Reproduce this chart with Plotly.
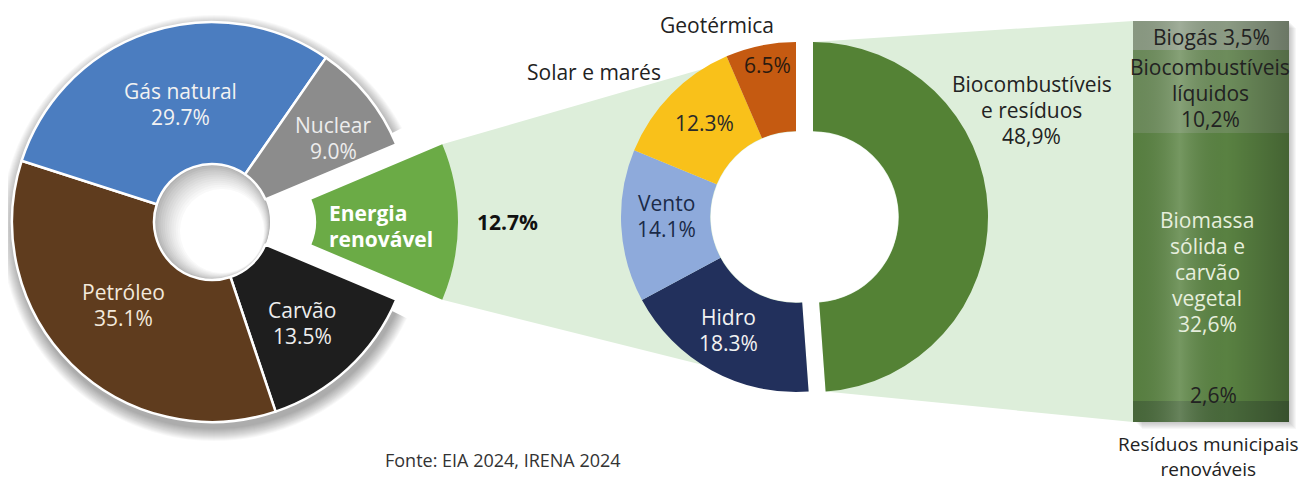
import math
import plotly.graph_objects as go

W, H = 1315, 481
OFF = 8  # page body margin of the browser (px)

# ---------------- data ----------------
fuel_labels = ["Energia renovável", "Carvão", "Petróleo", "Gás natural", "Nuclear"]
fuel_values = [12.7, 13.5, 35.1, 29.7, 9.0]
fuel_colors = ["#6BAB46", "#1E1E1E", "#5F3C1E", "#4B7DC0", "#8C8C8C"]

ren_labels = ["Biocombustíveis e resíduos", "Hidro", "Vento", "Solar e marés", "Geotérmica"]
ren_values = [48.9, 18.3, 14.1, 12.3, 6.5]
ren_colors = ["#548235", "#22305C", "#8EAADB", "#F9C11A", "#C55A11"]

bio_labels = ["Resíduos municipais renováveis", "Biomassa sólida e carvão vegetal",
              "Biocombustíveis líquidos", "Biogás"]
bio_values = [2.6, 32.6, 10.2, 3.5]
bio_colors = ["#4A6B3C", "#5B8443", "#6F8F5D", "#8E9E86"]

source_text = "Fonte: EIA 2024, IRENA 2024"

# ---------------- geometry (pixels in the final picture) ----------------
L_cx, L_cy, L_R, L_hole, L_pull = 212, 222, 200, 0.29, 46
M_cx, M_cy, M_R, M_hole, M_shift = 796, 217, 175, 0.49, 17
B_x0, B_x1, B_top, B_bot = 1133, 1289, 21, 422

FONT = "Open Sans"
FS = 21
LINE = 26


def px(x):
    return (x - OFF) / W


def py(y):
    return 1 - (y - OFF) / H


def dom(cx, cy, r):
    return dict(x=[px(cx - r), px(cx + r)], y=[py(cy + r), py(cy - r)])


fig = go.Figure()

# ---- left donut (all slices except the pulled renewable one) ----
tot = sum(fuel_values)
rot_left = 90 - 180 * fuel_values[0] / tot
colA = ["rgba(0,0,0,0)"] + fuel_colors[1:]
lwA = [0] + [2.5] * (len(fuel_values) - 1)
fig.add_trace(go.Pie(labels=fuel_labels, values=fuel_values, hole=L_hole, sort=False,
                     direction="clockwise", rotation=rot_left, textinfo="none",
                     marker=dict(colors=colA, line=dict(color="white", width=lwA)),
                     domain=dom(L_cx, L_cy, L_R), hoverinfo="label+percent"))
# pulled renewable slice
colB = [fuel_colors[0]] + ["rgba(0,0,0,0)"] * (len(fuel_values) - 1)
fig.add_trace(go.Pie(labels=fuel_labels, values=fuel_values, hole=L_hole, sort=False,
                     direction="clockwise", rotation=rot_left, textinfo="none",
                     marker=dict(colors=colB, line=dict(color="white", width=0)),
                     domain=dom(L_cx + L_pull, L_cy, L_R), hoverinfo="label+percent"))

# ---- middle donut ----
colC = ["rgba(0,0,0,0)"] + ren_colors[1:]
fig.add_trace(go.Pie(labels=ren_labels, values=ren_values, hole=M_hole, sort=False,
                     direction="clockwise", rotation=0, textinfo="none",
                     marker=dict(colors=colC, line=dict(width=0)),
                     domain=dom(M_cx, M_cy, M_R), hoverinfo="label+percent"))
colD = [ren_colors[0]] + ["rgba(0,0,0,0)"] * (len(ren_values) - 1)
fig.add_trace(go.Pie(labels=ren_labels, values=ren_values, hole=M_hole, sort=False,
                     direction="clockwise", rotation=0, textinfo="none",
                     marker=dict(colors=colD, line=dict(width=0)),
                     domain=dom(M_cx + M_shift, M_cy, M_R), hoverinfo="label+percent"))

# ---- stacked bar ----
btot = sum(bio_values)
for lab, v, c in zip(bio_labels, bio_values, bio_colors):
    fig.add_trace(go.Bar(x=[0], y=[v], width=1, name=lab, marker=dict(color=c, line=dict(width=0)),
                         xaxis="x", yaxis="y", hoverinfo="name+y"))
fig.add_trace(go.Scatter(x=[-0.5, 0.5, 0.5, -0.5, -0.5], y=[0, 0, btot, btot, 0], fill="toself",
                         mode="none", hoverinfo="skip",
                         fillgradient=dict(type="horizontal",
                                           colorscale=[[0, "rgba(0,0,0,0.04)"],
                                                       [0.3, "rgba(255,255,255,0.16)"],
                                                       [0.6, "rgba(0,0,0,0.02)"],
                                                       [1, "rgba(0,0,0,0.25)"]])))

# ---------------- shapes ----------------
shapes = []


def circle(cx, cy, r, color, layer="below"):
    return dict(type="circle", xref="paper", yref="paper", x0=px(cx - r), x1=px(cx + r),
                y0=py(cy + r), y1=py(cy - r), fillcolor=color, line=dict(width=0), layer=layer)


def path(points, color, layer="below"):
    d = "M " + " L ".join(f"{px(x):.6f},{py(y):.6f}" for x, y in points) + " Z"
    return dict(type="path", xref="paper", yref="paper", path=d, fillcolor=color,
                line=dict(width=0), layer=layer)


# drop shadow of left donut
for k in range(1, 14):
    shapes.append(circle(L_cx + 2, L_cy + 6, L_R + k, "rgba(0,0,0,0.028)"))
# keep the gap left by the pulled slice clean
a = math.radians(180 * fuel_values[0] / tot)
wedge = [(L_cx, L_cy)]
for i in range(13):
    t = -a * 1.15 + 2 * a * 1.15 * i / 12
    wedge.append((L_cx + (L_R + 20) * math.cos(t), L_cy - (L_R + 20) * math.sin(t)))
shapes.append(path(wedge, "white"))
# hole with inner shading
hr = L_R * L_hole
N = 12
for i in range(N + 1):
    f = i / N
    g = int(176 + (255 - 176) * f ** 0.8)
    shapes.append(circle(L_cx + 10 * f, L_cy + 9 * f, hr - 16 * f, f"rgb({g},{g},{g})"))

# bar shadow
for k in range(1, 8):
    shapes.append(dict(type="rect", xref="paper", yref="paper", x0=px(B_x0 + k + 2), x1=px(B_x1 + k),
                       y0=py(B_bot + k), y1=py(B_top + k), fillcolor="rgba(0,0,0,0.03)",
                       line=dict(width=0), layer="below"))

# light green connector regions
pcx = L_cx + L_pull
A = (pcx + L_R * math.cos(a), L_cy - L_R * math.sin(a))
E = (pcx + L_R * math.cos(a), L_cy + L_R * math.sin(a))
b = math.radians(90 - 360 * ren_values[0] / sum(ren_values))
Btop = (M_cx, M_cy - M_R)
Dbot = (M_cx + M_R * math.cos(b), M_cy - M_R * math.sin(b))
LG = "#DDEEDA"
shapes.append(path([A, Btop, (M_cx, M_cy), Dbot, E], LG))
bcx = M_cx + M_shift
shapes.append(path([(bcx, M_cy - M_R), (B_x0, B_top), (B_x0 + 20, B_top), (B_x0 + 20, B_bot),
                    (B_x0, B_bot), (bcx + M_R * math.cos(b), M_cy - M_R * math.sin(b)), (bcx, M_cy)], LG))

# white holes over middle donut
mhr = M_R * M_hole - 0.5
shapes.append(circle(M_cx, M_cy, mhr, "white", layer="above"))
shapes.append(circle(bcx, M_cy, mhr, "white", layer="above"))

# ---------------- annotations ----------------
ann = []


def label(x, y, lines, color="#222222", size=FS, bold=False, xanchor="center", step=LINE):
    for i, s in enumerate(lines):
        t = f"<b>{s}</b>" if bold else s
        ann.append(dict(x=px(x), y=py(y + i * step), xref="paper", yref="paper", text=t,
                        showarrow=False, xanchor=xanchor, yanchor="middle",
                        font=dict(family=FONT, size=size, color=color)))


def pct(v, comma=False):
    s = f"{v:.1f}%"
    return s.replace(".", ",") if comma else s


fv = dict(zip(fuel_labels, fuel_values))
rv = dict(zip(ren_labels, ren_values))
bv = dict(zip(bio_labels, bio_values))

label(180, 91, ["Gás natural", pct(fv["Gás natural"])], color="#F2F2F2")
label(333, 125, ["Nuclear", pct(fv["Nuclear"])], color="#EDEDED")
label(124, 292, ["Petróleo", pct(fv["Petróleo"])], color="#F3E9DC")
label(302, 310, ["Carvão", pct(fv["Carvão"])], color="#EDEDED")
label(327, 213, ["Energia", "renovável"], color="white", bold=True, xanchor="left")
label(507, 222, [pct(fv["Energia renovável"])], color="#111111", bold=True)

label(717, 25, ["Geotérmica"])
label(594, 72, ["Solar e marés"])
label(767, 65, [pct(rv["Geotérmica"])], color="#2a1a10")
label(704, 123, [pct(rv["Solar e marés"])], color="#2a2a2a")
label(666, 203, ["Vento", pct(rv["Vento"])], color="#1B2A48")
label(728, 317, ["Hidro", pct(rv["Hidro"])], color="#F2F2F2")
label(1032, 84, ["Biocombustíveis", "e resíduos", pct(rv["Biocombustíveis e resíduos"], True)])

label(1211, 37, [f"Biogás {pct(bv['Biogás'], True)}"])
label(1210, 67, ["Biocombustíveis", "líquidos", pct(bv["Biocombustíveis líquidos"], True)])
label(1207, 220, ["Biomassa", "sólida e", "carvão", "vegetal",
                  pct(bv["Biomassa sólida e carvão vegetal"], True)], color="#E6EEDD")
label(1213, 395, [pct(bv["Resíduos municipais renováveis"], True)])
label(1208, 456, ["Resíduos municipais<br>renováveis"], size=19)
label(503, 460, [source_text], size=18, color="#333333")

fig.update_layout(
    width=W, height=H, margin=dict(l=0, r=0, t=0, b=0),
    paper_bgcolor="white", plot_bgcolor="rgba(0,0,0,0)",
    showlegend=False, barmode="stack", bargap=0,
    xaxis=dict(domain=[px(B_x0), px(B_x1)], range=[-0.5, 0.5], visible=False, fixedrange=True),
    yaxis=dict(domain=[py(B_bot), py(B_top)], range=[0, btot], visible=False, fixedrange=True),
    shapes=shapes, annotations=ann,
    font=dict(family=FONT),
)

fig.write_html("out.html")
